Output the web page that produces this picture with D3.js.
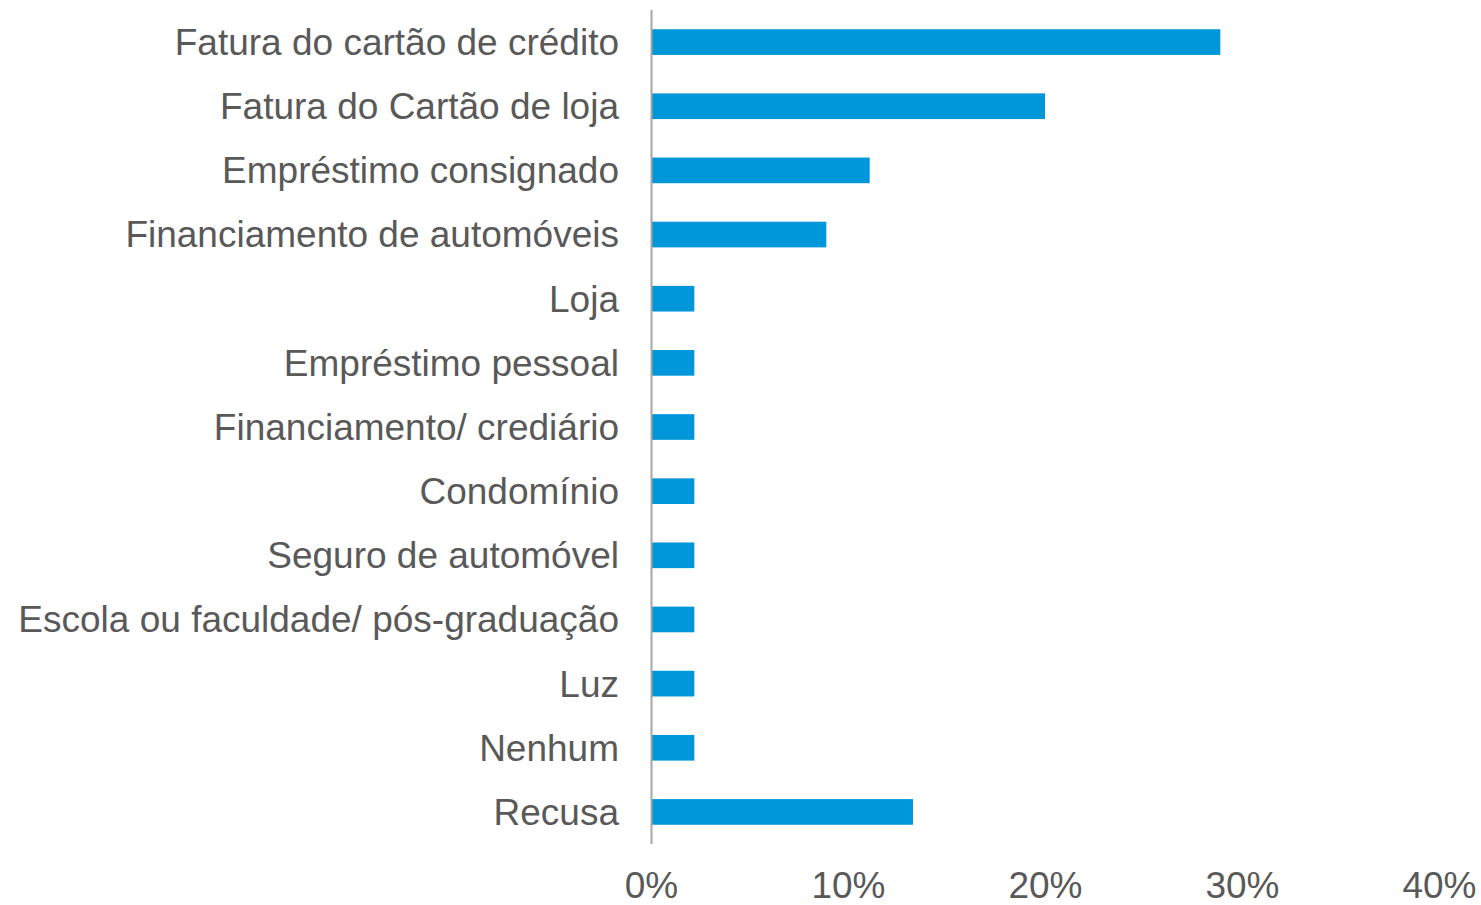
<!DOCTYPE html>
<html>
<head>
<meta charset="utf-8">
<script src="https://cdn.jsdelivr.net/npm/d3@7"></script>
<style>
  body { margin: 0; background: #fff; }
  text { font-family: "Liberation Sans", Arial, sans-serif; fill: #595959; }
</style>
</head>
<body>
<div id="chart"></div>
<script>
// Categories, top to bottom
var categories = [
  "Fatura do cartão de crédito",
  "Fatura do Cartão de loja",
  "Empréstimo consignado",
  "Financiamento de automóveis",
  "Loja",
  "Empréstimo pessoal",
  "Financiamento/ crediário",
  "Condomínio",
  "Seguro de automóvel",
  "Escola ou faculdade/ pós-graduação",
  "Luz",
  "Nenhum",
  "Recusa"
];

// Share of answers (fraction)
var values = [0.289, 0.200, 0.111, 0.089, 0.022, 0.022, 0.022, 0.022, 0.022, 0.022, 0.022, 0.022, 0.133];

// Axis ticks
var tickValues = [0, 0.1, 0.2, 0.3, 0.4];

var width = 1481, height = 905;

var svg = d3.select("#chart")
  .append("svg")
  .attr("width", width)
  .attr("height", height);

// x scale: 0% .. 40%
var xScale = d3.scaleLinear()
  .domain([0, 0.4])
  .range([651, 1439]);

// y scale: one band per category
var yScale = d3.scaleBand()
  .domain(categories)
  .range([10, 844])
  .paddingInner(0.6)
  .paddingOuter(0.3);

// bars
svg.append("g")
  .selectAll("rect")
  .data(values)
  .enter()
  .append("rect")
  .attr("x", xScale(0))
  .attr("y", function (d, i) { return yScale(categories[i]); })
  .attr("width", function (d) { return xScale(d) - xScale(0); })
  .attr("height", yScale.bandwidth())
  .style("fill", "#0096DA");

// category axis (left)
var yAxis = d3.axisLeft(yScale)
  .tickSize(0)
  .tickPadding(32);

var gy = svg.append("g")
  .attr("transform", "translate(" + xScale(0) + ",0)")
  .call(yAxis);

gy.select(".domain")
  .attr("d", "M0.5,10V844")
  .style("stroke", "#A6A6A6")
  .style("stroke-width", 2);

gy.selectAll("text")
  .style("font-size", "37px")
  .style("font-family", "'Liberation Sans', Arial, sans-serif")
  .attr("fill", "#595959")
  .attr("dy", "0.35em");

// value axis (bottom), labels only
var xAxis = d3.axisBottom(xScale)
  .tickValues(tickValues)
  .tickSize(0)
  .tickPadding(0)
  .tickFormat(d3.format(".0%"));

var gx = svg.append("g")
  .attr("transform", "translate(0,872)")
  .call(xAxis);

gx.select(".domain").remove();

gx.selectAll("text")
  .style("font-size", "37px")
  .style("font-family", "'Liberation Sans', Arial, sans-serif")
  .attr("fill", "#595959")
  .attr("dy", "0.71em")
  .attr("y", 0);
</script>
</body>
</html>
